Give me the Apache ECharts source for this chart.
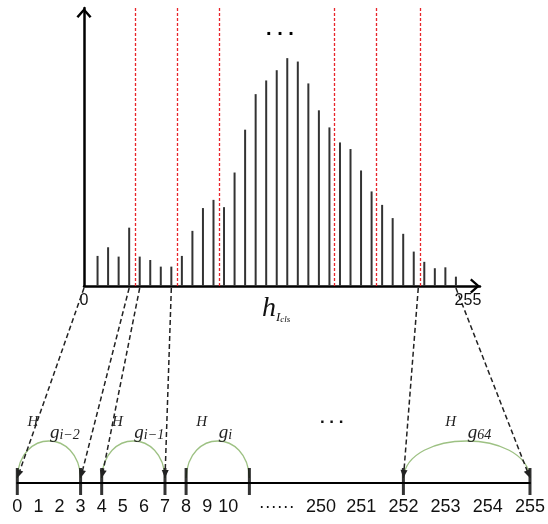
<!DOCTYPE html>
<html><head><meta charset="utf-8">
<script src="https://cdn.jsdelivr.net/npm/echarts@6/dist/echarts.min.js"></script>
<style>html,body{margin:0;padding:0;background:#fff}#c{width:548px;height:524px}</style>
</head><body><div id="c"></div>
<script>
// ---- histogram: grey level of each bin and its (relative) count ----
const binLevels = [9,16,23,30,37,44,51,58,65,72,79,86,93,100,107,114,121,128,135,142,149,156,163,170,177,184,191,198,205,212,219,226,233,240,247];
const binCounts = [13.2,17.0,12.9,25.6,12.9,11.4,8.5,8.5,13.2,24.2,34.2,37.8,34.6,49.8,68.6,84.2,90.2,94.7,100,98.5,88.9,77.1,69.6,63.0,60.1,50.7,41.5,35.6,29.8,22.9,15.1,10.6,7.8,8.2,4.1];
// red dashed group boundaries (grey level)
const boundaries = [34, 62, 90, 166, 194, 223];
// tick labels on the histogram axis
const histTickValues = [0, 255];
// ---- number line ----
const lineLabels = ['0','1','2','3','4','5','6','7','8','9','10','······','250','251','252','253','254','255'];
const linePos    = [0,1,2,3,4,5,6,7,8,9,10,12.3,14.4,16.3,18.3,20.3,22.3,24.3];
const lineTicks  = [0,3,4,7,8,11,18.3,24.3];
// group arcs on number line
const arcFrom = [0,4,8,18.3];
const arcTo   = [3,7,11,24.3];
const arcSub  = ['i\u22122','i\u22121','i','64'];
// mapping arrows histogram level -> number line position
const mapFrom = [0,30,37,58,222,247];
const mapTo   = [0,3,4,7,18.3,24.3];

const chevron = 'path://M8,0 L16,9 L14,10.6 L8,3.6 L2,10.6 L0,9 Z';
const serif = '"Liberation Serif","DejaVu Serif",serif';
const sans = '"Liberation Sans",Arial,sans-serif';

const chart = echarts.init(document.getElementById('c'), null, {renderer:'canvas'});
const option = {
  animation:false,
  backgroundColor:'#fff',
  grid:[
    {left:84, top:8, width:396, height:278},
    {left:17.3, width:515, top:440, height:43}
  ],
  xAxis:[
    {gridIndex:0, type:'value', min:0, max:263,
     axisLine:{show:true, onZero:false, lineStyle:{color:'#000', width:2.5}, symbol:['none',chevron], symbolSize:[16,10], symbolOffset:[0,-5]},
     axisTick:{show:false}, splitLine:{show:false},
     axisLabel:{customValues:histTickValues, formatter:v=>String(v), color:'#111', fontSize:16, fontFamily:sans, margin:7, hideOverlap:false}},
    {gridIndex:1, type:'value', min:0, max:24.3,
     axisLine:{show:true, lineStyle:{color:'#000', width:2}},
     axisTick:{show:false}, splitLine:{show:false},
     axisLabel:{customValues:linePos, hideOverlap:false,
       formatter:v=>{const i=linePos.findIndex(p=>Math.abs(p-v)<1e-6); return i>=0?lineLabels[i]:'';},
       color:'#111', fontSize:18, fontFamily:sans, margin:15}}
  ],
  yAxis:[
    {gridIndex:0, type:'value', min:0, max:122,
     axisLine:{show:true, lineStyle:{color:'#000', width:2.5}, symbol:['none',chevron], symbolSize:[16,10], symbolOffset:[0,-5]},
     axisTick:{show:false}, axisLabel:{show:false}, splitLine:{show:false}},
    {gridIndex:1, type:'value', min:0, max:1, show:false}
  ],
  series:[
    {type:'bar', xAxisIndex:0, yAxisIndex:0, barWidth:2,
     data:binLevels.map((x,i)=>[x,binCounts[i]]),
     itemStyle:{color:'#333'},
     markLine:{silent:true, symbol:['none','none'], label:{show:false},
       lineStyle:{color:'#e8242a', type:[3,2], width:1.3},
       data:boundaries.map(v=>({xAxis:v}))}},
    {type:'scatter', xAxisIndex:1, yAxisIndex:1, symbol:'rect', symbolSize:[3,27], symbolOffset:[0,-1.5],
     clip:false, z:4, itemStyle:{color:'#000'},
     data:lineTicks.map(v=>[v,0])},
    {type:'custom', xAxisIndex:1, yAxisIndex:1, clip:false, z:3,
     data:arcFrom.map((a,i)=>[a,arcTo[i],i]),
     renderItem:(params, api)=>{
       const p0 = api.coord([api.value(0),0]);
       const p1 = api.coord([api.value(1),0]);
       const i = api.value(2);
       const y = p0[1]-5, k = 37*4/3;
       const w = p1[0]-p0[0], cx = (p0[0]+p1[0])/2;
       return {type:'group', children:[
         {type:'bezierCurve', shape:{x1:p0[0], y1:y, x2:p1[0], y2:y,
            cpx1:p0[0]+w*0.03, cpy1:y-k, cpx2:p1[0]-w*0.03, cpy2:y-k},
          style:{stroke:'#9dc183', fill:null, lineWidth:1.3}},
         {type:'text', x:cx-16, y:p0[1]-61,
          style:{text:'H', font:'italic 15px '+serif, fill:'#222', align:'center', verticalAlign:'middle'}},
         {type:'text', x:cx+1, y:p0[1]-50,
          style:{text:'{g|g}{s|'+arcSub[i]+'}', align:'left', verticalAlign:'middle',
            rich:{g:{fontSize:19, fontStyle:'italic', fontFamily:serif, fill:'#222'},
                  s:{fontSize:14, fontStyle:'italic', fontFamily:serif, fill:'#222', padding:[4,0,0,0]}}}}
       ]};
     }}
  ]
};
chart.setOption(option);

const g = [];
mapFrom.forEach((v,i)=>{
  const a = chart.convertToPixel({gridIndex:0}, [v,0]);
  const b = chart.convertToPixel({gridIndex:1}, [mapTo[i],0]);
  const x1=a[0], y1=a[1]+2, x2=b[0], y2=b[1]-5;
  const dx=x2-x1, dy=y2-y1, L=Math.hypot(dx,dy), ux=dx/L, uy=dy/L;
  const len=8, hw=3.5;
  g.push({type:'line', silent:true, shape:{x1, y1, x2:x2-ux*4, y2:y2-uy*4},
          style:{stroke:'#222', lineWidth:1.5, lineDash:[5,3]}, z:10});
  g.push({type:'polygon', silent:true, shape:{points:[[x2,y2],[x2-ux*len-uy*hw, y2-uy*len+ux*hw],[x2-ux*len+uy*hw, y2-uy*len-ux*hw]]},
          style:{fill:'#222'}, z:10});
});
g.push({type:'text', x:280, y:29.5, style:{text:'. . .', font:'bold 20px '+sans, fill:'#000', align:'center', verticalAlign:'middle'}, z:10});
g.push({type:'text', x:331.7, y:418.5, style:{text:'. . .', font:'bold 17px '+sans, fill:'#111', align:'center', verticalAlign:'middle'}, z:10});
g.push({type:'text', x:262, y:294, style:{text:'{h|h}{i|I}{c|cls}', align:'left', verticalAlign:'top',
  rich:{h:{fontSize:28, fontStyle:'italic', fontFamily:serif, fill:'#111', lineHeight:30},
        i:{fontSize:13, fontStyle:'italic', fontFamily:serif, fill:'#111', verticalAlign:'bottom', lineHeight:13},
        c:{fontSize:9, fontStyle:'italic', fontFamily:serif, fill:'#111', verticalAlign:'bottom', lineHeight:10}}}, z:10});
chart.setOption({graphic:g});
</script></body></html>
